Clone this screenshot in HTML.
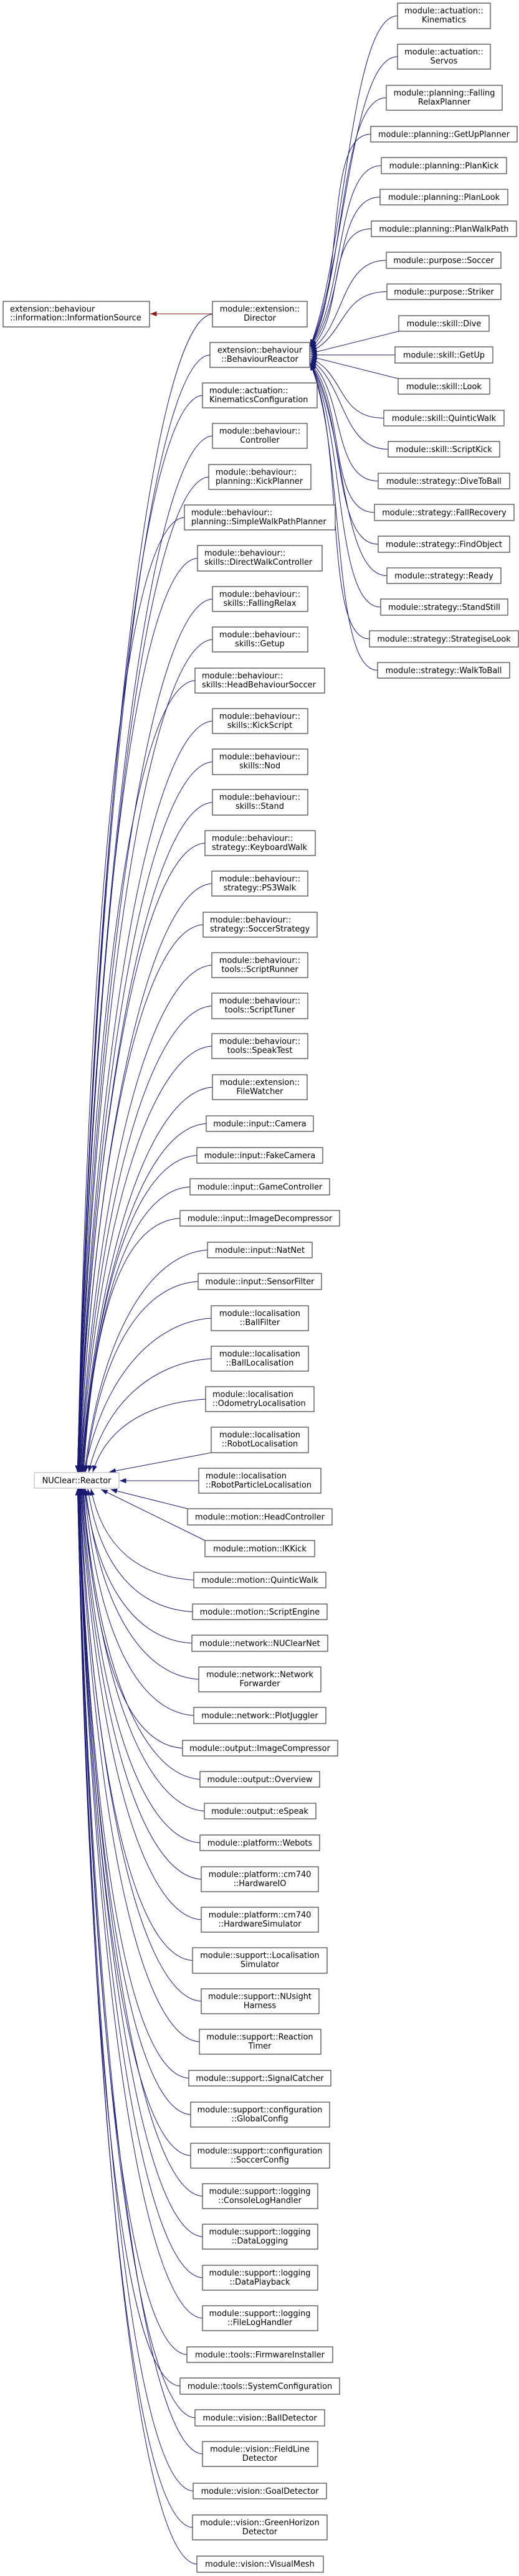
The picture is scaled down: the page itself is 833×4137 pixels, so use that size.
<!DOCTYPE html>
<html><head><meta charset="utf-8">
<style>
html,body{margin:0;padding:0;background:#fff;}
svg{display:block;}
text{font-family:"DejaVu Sans","Liberation Sans",sans-serif;font-size:12.9px;fill:#000;}
.n rect{fill:#fff;stroke:#404040;stroke-width:1.2;}
.c{text-anchor:middle;}
</style></head><body>
<svg id="g" width="833" height="4137" viewBox="0 0 833 4137" xmlns="http://www.w3.org/2000/svg">
<defs>
<marker id="ab" markerUnits="userSpaceOnUse" markerWidth="11" markerHeight="8" refX="10.5" refY="4" orient="auto"><path d="M0,0 L10.5,4 L0,8 z" fill="#191970"/></marker>
<marker id="ar" markerUnits="userSpaceOnUse" markerWidth="11" markerHeight="8" refX="10.5" refY="4" orient="auto"><path d="M0,0 L10.5,4 L0,8 z" fill="#8b1a1a"/></marker>
</defs>
<g id="edges" fill="none" stroke="#191970" stroke-width="1"></g>
<path d="M341,504 L241,504" stroke="#8b1a1a" stroke-width="1" fill="none" marker-end="url(#ar)"/>
<g class="n">
<rect x="5" y="484" width="235" height="41"/><text x="16" y="500.5">extension::behaviour</text><text x="16" y="514.5">::information::InformationSource</text>
<rect x="55" y="2365" width="136" height="25" style="stroke:#bfbfbf"/><text class="c" x="123" y="2382">NUClear::Reactor</text>

<rect x="638" y="5" width="149" height="41"/><text class="c" x="712.5" y="21.5">module::actuation::</text><text class="c" x="712.5" y="36">Kinematics</text>
<rect x="638" y="71" width="149" height="40"/><text class="c" x="712.5" y="87.5">module::actuation::</text><text class="c" x="712.5" y="102">Servos</text>
<rect x="620" y="137" width="186" height="40"/><text class="c" x="713" y="153.5">module::planning::Falling</text><text class="c" x="713" y="168">RelaxPlanner</text>
<rect x="595" y="203" width="235" height="25"/><text class="c" x="712.5" y="220">module::planning::GetUpPlanner</text>
<rect x="612" y="253" width="201" height="26"/><text class="c" x="712.5" y="270.5">module::planning::PlanKick</text>
<rect x="610" y="304" width="205" height="25"/><text class="c" x="712.5" y="321">module::planning::PlanLook</text>
<rect x="596" y="355" width="233" height="25"/><text class="c" x="712.5" y="372">module::planning::PlanWalkPath</text>
<rect x="620" y="405" width="184" height="26"/><text class="c" x="712" y="422.5">module::purpose::Soccer</text>
<rect x="621" y="456" width="183" height="25"/><text class="c" x="712.5" y="473">module::purpose::Striker</text>
<rect x="640" y="507" width="145" height="25"/><text class="c" x="712.5" y="524">module::skill::Dive</text>
<rect x="634" y="557" width="157" height="26"/><text class="c" x="712.5" y="574.5">module::skill::GetUp</text>
<rect x="639" y="608" width="147" height="25"/><text class="c" x="712.5" y="625">module::skill::Look</text>
<rect x="616" y="659" width="193" height="25"/><text class="c" x="712.5" y="676">module::skill::QuinticWalk</text>
<rect x="623" y="709" width="179" height="25"/><text class="c" x="712.5" y="726">module::skill::ScriptKick</text>
<rect x="607" y="760" width="211" height="25"/><text class="c" x="712.5" y="777">module::strategy::DiveToBall</text>
<rect x="601" y="810" width="224" height="26"/><text class="c" x="713" y="827.5">module::strategy::FallRecovery</text>
<rect x="607" y="861" width="211" height="26"/><text class="c" x="712.5" y="878.5">module::strategy::FindObject</text>
<rect x="621" y="912" width="183" height="25"/><text class="c" x="712.5" y="929">module::strategy::Ready</text>
<rect x="611" y="962" width="204" height="26"/><text class="c" x="713" y="979.5">module::strategy::StandStill</text>
<rect x="593" y="1013" width="239" height="26"/><text class="c" x="712.5" y="1030.5">module::strategy::StrategiseLook</text>
<rect x="606" y="1064" width="212" height="25"/><text class="c" x="712" y="1081">module::strategy::WalkToBall</text>

<rect x="341" y="484" width="152" height="41"/><text class="c" x="417" y="500.5">module::extension::</text><text class="c" x="417" y="515">Director</text>
<rect x="337" y="550" width="160" height="40"/><text class="c" x="417" y="566.5">extension::behaviour</text><text class="c" x="417" y="581">::BehaviourReactor</text>
<rect x="325" y="615" width="184" height="40"/><text x="336" y="631.5">module::actuation::</text><text x="336" y="646">KinematicsConfiguration</text>
<rect x="341" y="680" width="152" height="40"/><text class="c" x="417" y="696.5">module::behaviour::</text><text class="c" x="417" y="711">Controller</text>
<rect x="335" y="746" width="164" height="40"/><text x="346" y="762.5">module::behaviour::</text><text x="346" y="777">planning::KickPlanner</text>
<rect x="296" y="811" width="242" height="40"/><text x="307" y="827.5">module::behaviour::</text><text x="307" y="842">planning::SimpleWalkPathPlanner</text>
<rect x="317" y="876" width="200" height="41"/><text x="328" y="892.5">module::behaviour::</text><text x="328" y="907">skills::DirectWalkController</text>
<rect x="341" y="942" width="153" height="40"/><text class="c" x="417" y="958.5">module::behaviour::</text><text class="c" x="417" y="973">skills::FallingRelax</text>
<rect x="341" y="1007" width="153" height="40"/><text class="c" x="417" y="1023.5">module::behaviour::</text><text class="c" x="417" y="1038">skills::Getup</text>
<rect x="313" y="1073" width="208" height="40"/><text x="324" y="1089.5">module::behaviour::</text><text x="324" y="1104">skills::HeadBehaviourSoccer</text>
<rect x="341" y="1138" width="153" height="40"/><text class="c" x="417" y="1154.5">module::behaviour::</text><text class="c" x="417" y="1169">skills::KickScript</text>
<rect x="341" y="1203" width="153" height="41"/><text class="c" x="417" y="1219.5">module::behaviour::</text><text class="c" x="417" y="1234">skills::Nod</text>
<rect x="341" y="1268" width="153" height="41"/><text class="c" x="417" y="1284.5">module::behaviour::</text><text class="c" x="417" y="1299">skills::Stand</text>
<rect x="329" y="1334" width="177" height="40"/><text x="340" y="1350.5">module::behaviour::</text><text x="340" y="1365">strategy::KeyboardWalk</text>
<rect x="340" y="1399" width="154" height="40"/><text class="c" x="417" y="1415.5">module::behaviour::</text><text class="c" x="417" y="1430">strategy::PS3Walk</text>
<rect x="326" y="1465" width="183" height="40"/><text x="337" y="1481.5">module::behaviour::</text><text x="337" y="1496">strategy::SoccerStrategy</text>
<rect x="340" y="1530" width="154" height="40"/><text class="c" x="417" y="1546.5">module::behaviour::</text><text class="c" x="417" y="1561">tools::ScriptRunner</text>
<rect x="340" y="1595" width="154" height="41"/><text class="c" x="417" y="1611.5">module::behaviour::</text><text class="c" x="417" y="1626">tools::ScriptTuner</text>
<rect x="340" y="1660" width="154" height="40"/><text class="c" x="417" y="1676.5">module::behaviour::</text><text class="c" x="417" y="1691">tools::SpeakTest</text>
<rect x="341" y="1726" width="152" height="40"/><text class="c" x="417" y="1742.5">module::extension::</text><text class="c" x="417" y="1757">FileWatcher</text>
<rect x="331" y="1792" width="172" height="25"/><text class="c" x="417" y="1809">module::input::Camera</text>
<rect x="316" y="1843" width="202" height="25"/><text class="c" x="417" y="1860">module::input::FakeCamera</text>
<rect x="305" y="1893" width="224" height="26"/><text class="c" x="417" y="1910.5">module::input::GameController</text>
<rect x="289" y="1944" width="256" height="25"/><text class="c" x="417" y="1961">module::input::ImageDecompressor</text>
<rect x="333" y="1995" width="168" height="25"/><text class="c" x="417" y="2012">module::input::NatNet</text>
<rect x="318" y="2045" width="198" height="26"/><text class="c" x="417" y="2062.5">module::input::SensorFilter</text>
<rect x="339" y="2097" width="156" height="40"/><text class="c" x="417" y="2113.5">module::localisation</text><text class="c" x="417" y="2128">::BallFilter</text>
<rect x="339" y="2162" width="156" height="40"/><text class="c" x="417" y="2178.5">module::localisation</text><text class="c" x="417" y="2193">::BallLocalisation</text>
<rect x="330" y="2227" width="174" height="40"/><text x="341" y="2243.5">module::localisation</text><text x="341" y="2258">::OdometryLocalisation</text>
<rect x="339" y="2292" width="156" height="41"/><text class="c" x="417" y="2308.5">module::localisation</text><text class="c" x="417" y="2323">::RobotLocalisation</text>
<rect x="319" y="2358" width="196" height="40"/><text x="330" y="2374.5">module::localisation</text><text x="330" y="2389">::RobotParticleLocalisation</text>
<rect x="301" y="2423" width="232" height="26"/><text class="c" x="417" y="2440.5">module::motion::HeadController</text>
<rect x="329" y="2474" width="176" height="26"/><text class="c" x="417" y="2491.5">module::motion::IKKick</text>
<rect x="311" y="2525" width="212" height="25"/><text class="c" x="417" y="2542">module::motion::QuinticWalk</text>
<rect x="309" y="2576" width="216" height="25"/><text class="c" x="417" y="2593">module::motion::ScriptEngine</text>
<rect x="308" y="2626" width="218" height="26"/><text class="c" x="417" y="2643.5">module::network::NUClearNet</text>
<rect x="319" y="2677" width="196" height="40"/><text class="c" x="417" y="2693.5">module::network::Network</text><text class="c" x="417" y="2708">Forwarder</text>
<rect x="311" y="2742" width="212" height="26"/><text class="c" x="417" y="2759.5">module::network::PlotJuggler</text>
<rect x="293" y="2795" width="249" height="25"/><text class="c" x="417" y="2812">module::output::ImageCompressor</text>
<rect x="321" y="2845" width="192" height="25"/><text class="c" x="417" y="2862">module::output::Overview</text>
<rect x="328" y="2896" width="179" height="25"/><text class="c" x="417" y="2913">module::output::eSpeak</text>
<rect x="321" y="2947" width="192" height="25"/><text class="c" x="417" y="2964">module::platform::Webots</text>
<rect x="323" y="2998" width="188" height="40"/><text class="c" x="417" y="3014.5">module::platform::cm740</text><text class="c" x="417" y="3029">::HardwareIO</text>
<rect x="323" y="3063" width="188" height="40"/><text class="c" x="417" y="3079.5">module::platform::cm740</text><text class="c" x="417" y="3094">::HardwareSimulator</text>
<rect x="309" y="3128" width="216" height="41"/><text class="c" x="417" y="3144.5">module::support::Localisation</text><text class="c" x="417" y="3159">Simulator</text>
<rect x="323" y="3194" width="189" height="40"/><text class="c" x="417" y="3210.5">module::support::NUsight</text><text class="c" x="417" y="3225">Harness</text>
<rect x="320" y="3259" width="195" height="40"/><text class="c" x="417" y="3275.5">module::support::Reaction</text><text class="c" x="417" y="3290">Timer</text>
<rect x="303" y="3325" width="228" height="25"/><text class="c" x="417" y="3342">module::support::SignalCatcher</text>
<rect x="306" y="3376" width="223" height="40"/><text class="c" x="417" y="3392.5">module::support::configuration</text><text class="c" x="417" y="3407">::GlobalConfig</text>
<rect x="306" y="3442" width="223" height="40"/><text class="c" x="417" y="3458.5">module::support::configuration</text><text class="c" x="417" y="3473">::SoccerConfig</text>
<rect x="325" y="3507" width="185" height="40"/><text class="c" x="417" y="3523.5">module::support::logging</text><text class="c" x="417" y="3538">::ConsoleLogHandler</text>
<rect x="325" y="3572" width="185" height="40"/><text class="c" x="417" y="3588.5">module::support::logging</text><text class="c" x="417" y="3603">::DataLogging</text>
<rect x="325" y="3638" width="185" height="40"/><text class="c" x="417" y="3654.5">module::support::logging</text><text class="c" x="417" y="3669">::DataPlayback</text>
<rect x="325" y="3703" width="185" height="40"/><text class="c" x="417" y="3719.5">module::support::logging</text><text class="c" x="417" y="3734">::FileLogHandler</text>
<rect x="300" y="3769" width="234" height="25"/><text class="c" x="417" y="3786">module::tools::FirmwareInstaller</text>
<rect x="289" y="3819" width="256" height="26"/><text class="c" x="417" y="3836.5">module::tools::SystemConfiguration</text>
<rect x="313" y="3870" width="208" height="26"/><text class="c" x="417" y="3887.5">module::vision::BallDetector</text>
<rect x="325" y="3921" width="185" height="40"/><text class="c" x="417" y="3937.5">module::vision::FieldLine</text><text class="c" x="417" y="3952">Detector</text>
<rect x="310" y="3988" width="214" height="25"/><text class="c" x="417" y="4005">module::vision::GoalDetector</text>
<rect x="309" y="4039" width="216" height="40"/><text class="c" x="417" y="4055.5">module::vision::GreenHorizon</text><text class="c" x="417" y="4070">Detector</text>
<rect x="316" y="4105" width="203" height="26"/><text class="c" x="417" y="4122">module::vision::VisualMesh</text>
</g>
</svg>
<script>
(function(){
var NS="http://www.w3.org/2000/svg";
var eg=document.getElementById("edges");
function add(d){var p=document.createElementNS(NS,"path");p.setAttribute("d",d);p.setAttribute("marker-end","url(#ab)");eg.appendChild(p);}
// right column -> BehaviourReactor (right edge x=497, mid y=570)
var R=[[638,5,46],[638,71,111],[620,137,177],[595,203,228],[612,253,279],[610,304,329],[596,355,380],[620,405,431],[621,456,481],[640,507,532],[634,557,583],[639,608,633],[616,659,684],[623,709,734],[607,760,785],[601,810,836],[607,861,887],[621,912,937],[611,962,988],[593,1013,1039],[606,1064,1089]];
R.forEach(function(b){
  var sx=b[0], sy=(b[1]+b[2])/2, dy=sy-570;
  var ey=570+Math.max(-14,Math.min(14,dy*0.05));
  if(Math.abs(dy)<5){add("M"+sx+","+sy+" L498,"+ey);return;}
  if(Math.abs(dy)<60){add("M"+sx+","+(dy<0?b[2]:b[1])+" L498,"+ey);return;}
  add("M"+sx+","+sy+" C"+(sx-75)+","+sy+" "+(555)+","+(570+dy*0.3)+" 498,"+ey);
});
// middle -> NUClear::Reactor (55..191, 2365..2390)
var M=[[341,484,525],[337,550,590],[325,615,655],[341,680,720],[335,746,786],[296,811,851],[317,876,917],[341,942,982],[341,1007,1047],[313,1073,1113],[341,1138,1178],[341,1203,1244],[341,1268,1309],[329,1334,1374],[340,1399,1439],[326,1465,1505],[340,1530,1570],[340,1595,1636],[340,1660,1700],[341,1726,1766],[331,1792,1817],[316,1843,1868],[305,1893,1919],[289,1944,1969],[333,1995,2020],[318,2045,2071],[339,2097,2137],[339,2162,2202],[330,2227,2267],[339,2292,2333],[319,2358,2398],[301,2423,2449],[329,2474,2500],[311,2525,2550],[309,2576,2601],[308,2626,2652],[319,2677,2717],[311,2742,2768],[293,2795,2820],[321,2845,2870],[328,2896,2921],[321,2947,2972],[323,2998,3038],[323,3063,3103],[309,3128,3169],[323,3194,3234],[320,3259,3299],[303,3325,3350],[306,3376,3416],[306,3442,3482],[325,3507,3547],[325,3572,3612],[325,3638,3678],[325,3703,3743],[300,3769,3794],[289,3819,3845],[313,3870,3896],[325,3921,3961],[310,3988,4013],[309,4039,4079],[316,4105,4131]];
M.forEach(function(b){
  var sx=b[0], sy=(b[1]+b[2])/2, dy=sy-2378, ad=Math.abs(dy), dir=dy<0?-1:1;
  if(ad<5){add("M"+sx+","+sy+" L192,2378");return;}
  var xe,ye;
  if(ad<120){xe=183-(ad-40)*0.3; ye=dir<0?2364:2392; add("M"+sx+","+(dir<0?b[2]:b[1])+" L"+xe+","+ye);return;}
  if(ad<300){xe=150-(ad-120)*0.1;}
  else {xe=124+14*Math.exp(-(ad-300)/400);}
  ye=dir<0?2364:2391;
  var c1x=sx-95, c1y=sy+dir*-0.0+ (dir<0?6:-6);
  var c2x=xe+(c1x-xe)*0.25, c2y=sy+(ye-sy)*0.4;
  add("M"+sx+","+sy+" C"+c1x+","+c1y+" "+c2x+","+c2y+" "+xe+","+ye);
});
})();
</script>
</body></html>
